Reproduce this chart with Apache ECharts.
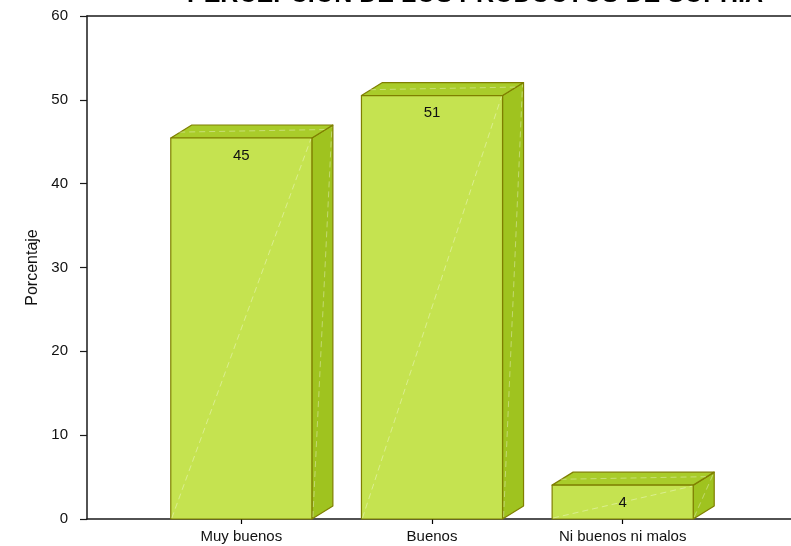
<!DOCTYPE html>
<html>
<head>
<meta charset="utf-8">
<script src="https://cdn.jsdelivr.net/npm/echarts@6/dist/echarts.min.js"></script>
<style>
  html, body { margin: 0; padding: 0; background: #fff; }
  #chart { width: 791px; height: 546px; }
</style>
</head>
<body>
<div id="chart"></div>
<script>
// Survey answers, in percent of respondents
const categories = ['Muy buenos', 'Buenos', 'Ni buenos ni malos'];
const percentages = [45.45, 50.51, 4.04];
const yTicks = { min: 0, max: 60, step: 10 };
const titleText = 'PERCEPCIÓN DE LOS PRODUCTOS DE SOPHIA';
const yAxisTitle = 'Porcentaje';

const FONT = '"Liberation Sans", Arial, Helvetica, sans-serif';
const EDGE = '#7f7f00';
const FRAME = { color: '#1a1a1a', width: 1.5 };

// Pseudo-3D box: front face, right side and top, plus faint sheen lines
function renderBox(params, api) {
  const idx = api.value(0);
  const val = api.value(1);
  const base = api.coord([idx, 0]);
  const top = api.coord([idx, val]);
  const band = api.size([1, 0])[0];
  const w = band * 0.74;
  const dx = 21, dy = 13;
  const x0 = base[0] - w / 2, x1 = base[0] + w / 2;
  const y0 = top[1], y1 = base[1];
  const edge = { stroke: EDGE, lineWidth: 1.2, lineJoin: 'round' };
  const sheen = { stroke: 'rgba(255,255,255,0.45)', lineWidth: 0.8, lineDash: [6, 4] };
  return {
    type: 'group',
    children: [
      { type: 'polygon', shape: { points: [[x1, y1], [x1 + dx, y1 - dy], [x1 + dx, y0 - dy], [x1, y0]] },
        style: Object.assign({ fill: '#9fc31f' }, edge) },
      { type: 'polygon', shape: { points: [[x0, y0], [x0 + dx, y0 - dy], [x1 + dx, y0 - dy], [x1, y0]] },
        style: Object.assign({ fill: '#a9cc2a' }, edge) },
      { type: 'rect', shape: { x: x0, y: y0, width: x1 - x0, height: y1 - y0 },
        style: Object.assign({ fill: '#c5e350' }, edge) },
      { type: 'line', shape: { x1: x0 + 1, y1: y1 - 1, x2: x1 - 1, y2: y0 + 1 }, style: sheen, silent: true },
      { type: 'line', shape: { x1: x1 + 1, y1: y1 - 2, x2: x1 + dx - 1, y2: y0 - dy + 2 }, style: sheen, silent: true },
      { type: 'line', shape: { x1: x0 + dx * 0.4, y1: y0 - dy * 0.45, x2: x1 + dx * 0.6, y2: y0 - dy * 0.65 }, style: sheen, silent: true },
      { type: 'text', x: base[0], y: y0 + 10,
        style: { text: String(Math.round(val)), font: '15px ' + FONT, fill: '#111', align: 'center', verticalAlign: 'top' } }
    ]
  };
}

const chart = echarts.init(document.getElementById('chart'), null, { renderer: 'canvas' });
chart.setOption({
  backgroundColor: '#fff',
  animation: false,
  title: {
    text: titleText,
    left: 470,
    textAlign: 'center',
    top: -22,
    textStyle: { fontFamily: FONT, fontSize: 25, fontWeight: 'bold', color: '#000' }
  },
  grid: [
    { left: 146, width: 572, top: 16, bottom: 27 },
    { left: 87, right: 0, top: 16, bottom: 27 }
  ],
  xAxis: [
    {
      gridIndex: 0, type: 'category', data: categories,
      axisLine: { show: false },
      axisTick: { show: true, alignWithLabel: true, length: 5, lineStyle: { color: '#000', width: 1.2 } },
      axisLabel: { color: '#111', fontFamily: FONT, fontSize: 15, margin: 10 }
    },
    // frame: bottom and top rules running to the right edge
    { gridIndex: 1, type: 'value', position: 'bottom', min: 0, max: 1,
      axisLine: { show: true, lineStyle: FRAME }, axisTick: { show: false }, axisLabel: { show: false }, splitLine: { show: false } },
    { gridIndex: 1, type: 'value', position: 'top', min: 0, max: 1,
      axisLine: { show: true, lineStyle: FRAME }, axisTick: { show: false }, axisLabel: { show: false }, splitLine: { show: false } }
  ],
  yAxis: [
    { gridIndex: 0, type: 'value', min: yTicks.min, max: yTicks.max, interval: yTicks.step, show: false },
    {
      gridIndex: 1, type: 'value', min: yTicks.min, max: yTicks.max, interval: yTicks.step,
      name: yAxisTitle, nameLocation: 'middle', nameGap: 46, nameRotate: 90,
      nameTextStyle: { fontFamily: FONT, fontSize: 16, color: '#111' },
      axisLine: { show: true, lineStyle: FRAME },
      axisTick: { show: true, length: 7, lineStyle: { color: '#1a1a1a', width: 1.2 } },
      axisLabel: { color: '#111', fontFamily: FONT, fontSize: 15, margin: 19 },
      splitLine: { show: false }
    }
  ],
  series: [{
    type: 'custom',
    xAxisIndex: 0, yAxisIndex: 0,
    renderItem: renderBox,
    encode: { x: 0, y: 1 },
    data: percentages.map((v, i) => [i, v]),
    clip: false
  }]
});
</script>
</body>
</html>
